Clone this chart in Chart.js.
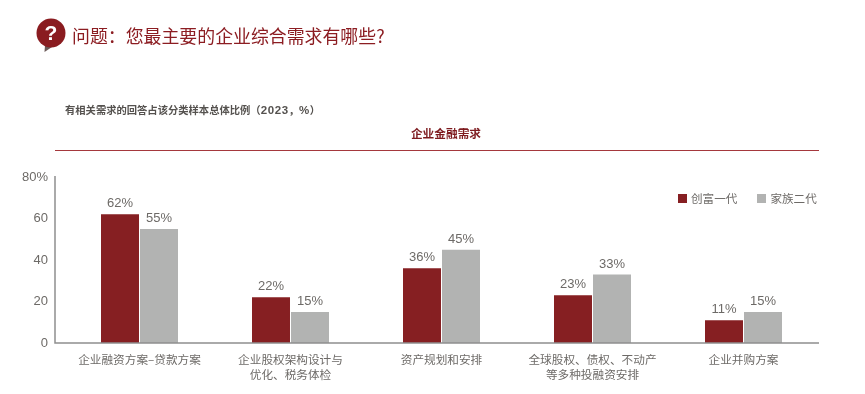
<!DOCTYPE html>
<html>
<head>
<meta charset="utf-8">
<script src="https://cdn.jsdelivr.net/npm/chart.js@4/dist/chart.umd.min.js"></script>
<style>
  html, body { margin: 0; padding: 0; background: #fff; }
  #wrap { position: relative; width: 865px; height: 394px; overflow: hidden; font-family: "Noto Sans CJK SC", sans-serif; }
  #wrap canvas { position: absolute; left: 0; top: 0; }
  .txt { position: absolute; white-space: nowrap; }
  #title { left: 72px; top: 21px; font-size: 17.9px; line-height: 28px; color: #8c1d22; }
  #subtitle { left: 65px; top: 102px; font-size: 10.3px; line-height: 16px; font-weight: 700; color: #55524f; }
  #subtitle span { font-family: "Liberation Sans"; font-size: 11.5px; letter-spacing: 0.6px; }
  #section { left: 346px; width: 200px; text-align: center; top: 125px; font-size: 11.7px; line-height: 16px; font-weight: 700; color: #7e1b1f; }
  #rule { position: absolute; left: 55px; top: 150px; width: 764px; height: 1px; background: #a5383d; }
  #icon { position: absolute; left: 35px; top: 18px; }
  #legend { position: absolute; left: 678px; top: 190px; display: flex; gap: 20px; font-size: 11.6px; line-height: 16px; color: #6d6a67; }
  #legend div { display: flex; align-items: center; }
  #legend i { display: block; width: 9px; height: 9px; margin-right: 4px; }
</style>
</head>
<body>
<div id="wrap">
  <canvas id="barChart" width="865" height="394"></canvas>
  <svg id="icon" width="32" height="36" viewBox="0 0 32 36">
    <path d="M10 27 L9.5 34 L17 29 Z" fill="#6b5a58"/>
    <circle cx="16" cy="15" r="14.5" fill="#8a1c20"/>
    <text x="16" y="22" text-anchor="middle" font-family="Liberation Sans" font-weight="700" font-size="21" fill="#fff">?</text>
  </svg>
  <div class="txt" id="title">问题&#xFF1A;您最主要的企业综合需求有哪些?</div>
  <div class="txt" id="subtitle">有相关需求的回答占该分类样本总体比例&#xFF08;<span>2023</span>&#xFF0C;<span>%</span>&#xFF09;</div>
  <div class="txt" id="section">企业金融需求</div>
  <div id="rule"></div>
  <div id="legend"></div>
</div>
<script>
const categories = [
    '企业融资方案\u2013贷款方案',
    ['企业股权架构设计与', '优化、税务体检'],
    '资产规划和安排',
    ['全球股权、债权、不动产', '等多种投融资安排'],
    '企业并购方案'
];
const firstGeneration = [62, 22, 36, 23, 11];
const secondGeneration = [55, 15, 45, 33, 15];
const yTicks = [0, 20, 40, 60, 80];

const textColor = '#6d6a67';
const axisColor = '#8f8f8f';

// axis lines sit a little left of the first category, so they are drawn here
const axisLines = {
    id: 'axisLines',
    afterDatasetsDraw(chart) {
        const ctx = chart.ctx;
        const yScale = chart.scales.y;
        const left = chart.chartArea.left - 9;
        ctx.save();
        ctx.strokeStyle = axisColor;
        ctx.lineWidth = 1.5;
        ctx.beginPath();
        ctx.moveTo(left, yScale.getPixelForValue(80) - 1);
        ctx.lineTo(left, yScale.getPixelForValue(0));
        ctx.lineTo(chart.chartArea.right, yScale.getPixelForValue(0));
        ctx.stroke();
        ctx.restore();
    }
};

const barLabels = {
    id: 'barLabels',
    afterDatasetsDraw(chart) {
        const ctx = chart.ctx;
        ctx.save();
        ctx.font = '13px "Liberation Sans"';
        ctx.fillStyle = textColor;
        ctx.textAlign = 'center';
        ctx.textBaseline = 'bottom';
        chart.data.datasets.forEach((dataset, i) => {
            chart.getDatasetMeta(i).data.forEach((bar, j) => {
                ctx.fillText(dataset.data[j] + '%', bar.x, bar.y - 4);
            });
        });
        ctx.restore();
    }
};

const chart = new Chart(document.getElementById('barChart').getContext('2d'), {
    type: 'bar',
    data: {
        labels: categories,
        datasets: [
            { label: '创富一代', data: firstGeneration, backgroundColor: '#861f22', categoryPercentage: 0.5166, barPercentage: 0.974 },
            { label: '家族二代', data: secondGeneration, backgroundColor: '#b2b3b2', categoryPercentage: 0.5166, barPercentage: 0.974 }
        ]
    },
    options: {
        responsive: false,
        animation: false,
        layout: { padding: { top: 177, right: 46 } },
        plugins: {
            title: { display: false },
            tooltip: { enabled: false },
            legend: { display: false }
        },
        scales: {
            x: {
                grid: { display: false, drawTicks: false },
                border: { display: false },
                ticks: {
                    color: textColor,
                    padding: 9,
                    maxRotation: 0,
                    autoSkip: false,
                    font: { family: '"Noto Sans CJK SC"', size: 11.65, lineHeight: 1.31 }
                },
                afterFit(axis) { axis.height = 51; }
            },
            y: {
                min: 0,
                max: 80,
                afterBuildTicks(axis) { axis.ticks = yTicks.map(v => ({ value: v })); },
                grid: { display: false, drawTicks: false },
                border: { display: false },
                ticks: {
                    color: textColor,
                    padding: 16,
                    font: { family: '"Liberation Sans"', size: 13 },
                    callback: (v) => (v === 80 ? v + '%' : v)
                },
                afterFit(axis) { axis.width = 64; }
            }
        }
    },
    plugins: [axisLines, barLabels]
});

// legend built from the datasets
document.getElementById('legend').innerHTML = chart.data.datasets.map(d =>
    `<div><i style="background:${d.backgroundColor}"></i>${d.label}</div>`
).join('');
</script>
</body>
</html>
